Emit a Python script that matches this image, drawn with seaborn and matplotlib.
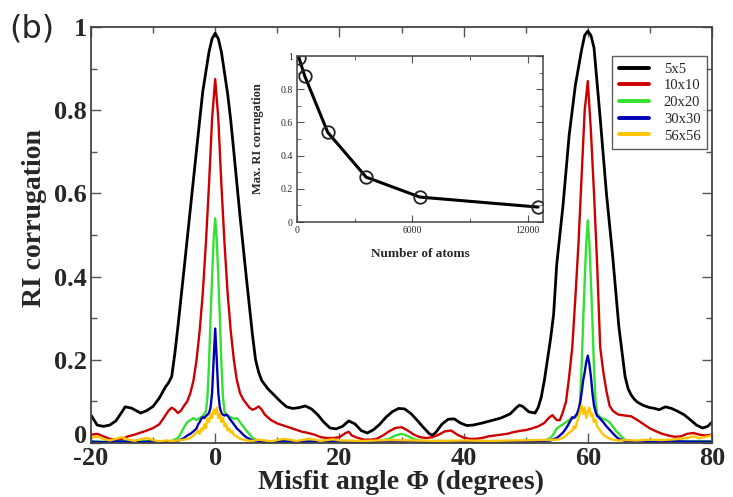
import numpy as np
import pandas as pd
import matplotlib
matplotlib.use("Agg")
import matplotlib.pyplot as plt
import matplotlib.transforms as mtransforms
import seaborn as sns
from matplotlib.ticker import MultipleLocator

# ---------------- data ----------------
sizes = ["5x5", "10x10", "20x20", "30x30", "56x56"]
colors = ["#000000", "#cc0000", "#33e033", "#0000b4", "#ffc400"]

ang_5 = [-20, -19, -18, -17, -16, -15, -14.5, -13.5, -12, -11, -10, -9, -8, -7.5, -7, -6.5, -6, -5.5, -5, -4, -3,
         -2.5, -2, -1, -0.5, 0, 0.5, 1, 2, 2.5, 3, 4, 5, 5.5, 6, 6.5, 7, 7.5, 8.5, 9.5, 10.5, 11.5, 12.5, 13.5,
         14.5, 15.5, 16.5, 17.5, 18.5, 19.5, 20.5, 21.5, 22.5, 23.5, 24.5, 25.5, 26.5, 27.5, 28.5, 29.5, 30.5,
         31.5, 32.5, 33.5, 34.5, 35, 35.5, 36.5, 37.5, 38.5, 39.5, 40.5, 41.5, 43, 44.5, 46, 47.5, 48.5, 49, 49.5,
         50.5, 51.5, 52, 52.5, 53, 53.5, 54, 54.5, 55, 56, 57, 58, 59, 59.5, 60, 60.5, 61, 62, 63, 64, 65, 65.5,
         66, 66.5, 67, 67.5, 68, 69, 70, 70.5, 71.5, 72.5, 73.5, 74.5, 75.5, 76.5, 77.5, 78.5, 79.3, 80]
val_5 = [0.067, 0.043, 0.040, 0.043, 0.053, 0.075, 0.087, 0.084, 0.072, 0.078, 0.088, 0.108, 0.135, 0.145, 0.16,
         0.215, 0.28, 0.35, 0.42, 0.563, 0.705, 0.776, 0.845, 0.94, 0.972, 0.985, 0.972, 0.94, 0.84, 0.776, 0.70,
         0.545, 0.40, 0.33, 0.26, 0.20, 0.17, 0.15, 0.13, 0.115, 0.10, 0.087, 0.083, 0.085, 0.089, 0.082, 0.068,
         0.05, 0.036, 0.034, 0.040, 0.053, 0.046, 0.03, 0.024, 0.032, 0.045, 0.062, 0.075, 0.083, 0.082, 0.071,
         0.055, 0.038, 0.022, 0.019, 0.025, 0.045, 0.057, 0.058, 0.048, 0.042, 0.043, 0.048, 0.054, 0.060, 0.070,
         0.085, 0.091, 0.088, 0.075, 0.072, 0.085, 0.11, 0.15, 0.20, 0.25, 0.31, 0.43, 0.57, 0.74, 0.86, 0.945,
         0.98, 0.99, 0.98, 0.95, 0.78, 0.60, 0.45, 0.28, 0.22, 0.16, 0.13, 0.115, 0.105, 0.098, 0.09, 0.085, 0.084,
         0.080, 0.087, 0.083, 0.076, 0.068, 0.056, 0.043, 0.036, 0.040, 0.050]

ang_10 = [-20, -19, -18, -17, -16, -15, -14, -13, -12, -11, -10, -9, -8.3, -7.5, -7, -6.5, -6, -5.5, -5, -4.5, -4,
          -3.5, -3, -2.5, -2, -1.5, -1, -0.5, 0, 0.5, 1, 1.5, 2, 2.5, 3, 3.5, 4, 4.5, 5, 5.5, 6, 6.5, 7, 7.5, 8, 9,
          10, 11, 12, 13, 14, 15, 16, 17, 18, 19, 20, 21, 21.5, 22, 23, 24, 25, 26, 27, 28, 29, 30, 31, 32, 33, 34,
          35, 36, 37, 38, 39, 40, 41, 42, 43, 44, 45, 46, 47, 48, 49, 50, 51, 52, 53, 53.7, 54.3, 55, 55.5, 56,
          56.5, 57, 57.5, 58, 58.5, 59, 59.5, 60, 60.5, 61, 61.5, 62, 62.5, 63, 63.5, 64, 64.5, 65, 66, 67, 68, 69,
          70, 71, 72, 73, 74, 75, 76, 77, 78, 79, 80]
val_10 = [0.02, 0.022, 0.016, 0.01, 0.008, 0.01, 0.016, 0.02, 0.025, 0.03, 0.036, 0.045, 0.06, 0.078, 0.085, 0.08,
          0.072, 0.078, 0.09, 0.10, 0.12, 0.15, 0.20, 0.27, 0.36, 0.48, 0.62, 0.78, 0.875, 0.78, 0.62, 0.48, 0.36,
          0.27, 0.20, 0.15, 0.12, 0.105, 0.095, 0.085, 0.08, 0.083, 0.088, 0.08, 0.068, 0.055, 0.047, 0.042, 0.037,
          0.032, 0.027, 0.024, 0.02, 0.014, 0.012, 0.012, 0.014, 0.024, 0.027, 0.018, 0.012, 0.008, 0.008, 0.01,
          0.018, 0.028, 0.036, 0.038, 0.03, 0.02, 0.014, 0.012, 0.014, 0.02, 0.028, 0.030, 0.02, 0.013, 0.01, 0.01,
          0.012, 0.016, 0.018, 0.02, 0.022, 0.026, 0.029, 0.031, 0.035, 0.04, 0.048, 0.06, 0.067, 0.055, 0.055,
          0.075, 0.10, 0.16, 0.23, 0.35, 0.48, 0.64, 0.80, 0.87, 0.75, 0.60, 0.43, 0.23, 0.17, 0.125, 0.09, 0.078,
          0.072, 0.068, 0.066, 0.064, 0.055, 0.045, 0.035, 0.028, 0.022, 0.018, 0.015, 0.016, 0.022, 0.024, 0.02,
          0.018, 0.02]

ang_20 = [-20, -18, -16, -14, -12, -10, -8, -7, -6, -5.5, -5, -4.5, -4, -3.5, -3, -2.5, -2, -1.5, -1.25, -1, -0.75,
          -0.5, -0.25, 0, 0.25, 0.5, 0.75, 1, 1.25, 1.5, 2, 2.5, 3, 3.5, 4, 4.5, 5, 5.5, 6, 7, 8, 10, 12, 14, 16,
          18, 20, 22, 24, 26, 28, 29, 30, 31, 32, 34, 36, 38, 40, 42, 44, 46, 48, 50, 52, 53, 54, 54.5, 55, 55.5,
          56, 56.5, 57, 57.5, 58, 58.5, 58.75, 59, 59.25, 59.5, 59.75, 60, 60.25, 60.5, 60.75, 61, 61.25, 61.5, 62,
          62.5, 63, 63.5, 64, 64.5, 65, 65.5, 66, 67, 70, 72, 74, 76, 78, 80]
val_20 = [0.004, 0.003, 0.005, 0.004, 0.006, 0.004, 0.003, 0.005, 0.012, 0.024, 0.038, 0.05, 0.055, 0.06, 0.055,
          0.06, 0.065, 0.075, 0.11, 0.19, 0.30, 0.40, 0.49, 0.54, 0.49, 0.40, 0.30, 0.19, 0.11, 0.075, 0.065, 0.062,
          0.058, 0.06, 0.05, 0.04, 0.03, 0.022, 0.012, 0.005, 0.003, 0.004, 0.005, 0.003, 0.004, 0.006, 0.004,
          0.005, 0.003, 0.004, 0.01, 0.018, 0.022, 0.017, 0.009, 0.004, 0.005, 0.004, 0.003, 0.005, 0.004, 0.003,
          0.004, 0.005, 0.004, 0.006, 0.012, 0.022, 0.035, 0.04, 0.045, 0.05, 0.055, 0.06, 0.062, 0.07, 0.10, 0.18,
          0.29, 0.39, 0.48, 0.535, 0.48, 0.39, 0.29, 0.18, 0.10, 0.07, 0.062, 0.058, 0.055, 0.05, 0.04, 0.03, 0.022,
          0.014, 0.008, 0.004, 0.003, 0.005, 0.004, 0.003, 0.005, 0.004]

ang_30 = [-20, -18, -16, -14, -12, -10, -8, -6, -5, -4.5, -4, -3.5, -3, -2.75, -2.5, -2.25, -2, -1.75, -1.5, -1.25,
          -1, -0.75, -0.5, -0.25, 0, 0.25, 0.5, 0.75, 1, 1.25, 1.5, 1.75, 2, 2.25, 2.5, 2.75, 3, 3.5, 4, 4.5, 5, 5.5,
          6, 8, 10, 14, 18, 22, 26, 30, 34, 38, 42, 46, 50, 54, 55, 55.5, 56, 56.5, 57, 57.25, 57.5, 57.75, 58,
          58.25, 58.5, 58.75, 59, 59.25, 59.5, 59.75, 60, 60.25, 60.5, 60.75, 61, 61.25, 61.5, 61.75, 62, 62.5, 63,
          63.5, 64, 64.5, 65, 66, 70, 74, 78, 80]
val_30 = [0.003, 0.002, 0.004, 0.003, 0.002, 0.004, 0.003, 0.005, 0.012, 0.018, 0.022, 0.028, 0.035, 0.045, 0.05,
          0.058, 0.062, 0.06, 0.065, 0.068, 0.072, 0.085, 0.12, 0.20, 0.275, 0.20, 0.12, 0.085, 0.072, 0.068, 0.066,
          0.068, 0.066, 0.06, 0.055, 0.05, 0.045, 0.035, 0.028, 0.02, 0.014, 0.01, 0.006, 0.003, 0.004, 0.003,
          0.004, 0.003, 0.004, 0.005, 0.003, 0.004, 0.003, 0.004, 0.003, 0.006, 0.012, 0.018, 0.025, 0.035, 0.048,
          0.055, 0.062, 0.06, 0.065, 0.07, 0.08, 0.095, 0.12, 0.15, 0.17, 0.195, 0.21, 0.19, 0.16, 0.12, 0.09, 0.075,
          0.065, 0.062, 0.058, 0.05, 0.04, 0.032, 0.024, 0.016, 0.01, 0.005, 0.003, 0.004, 0.003, 0.003]

ang_56 = [-20, -19, -18, -17, -16, -15, -14, -13, -12, -11, -10, -9, -8, -7, -6, -5, -4, -3.5, -3, -2.75, -2.5,
          -2.25, -2, -1.75, -1.5, -1.25, -1, -0.75, -0.5, -0.25, 0, 0.25, 0.5, 0.75, 1, 1.25, 1.5, 1.75, 2, 2.25,
          2.5, 2.75, 3, 3.5, 4, 5, 6, 7, 8, 9, 10, 11, 12, 13, 14, 15, 16, 17, 18, 19, 20, 24, 28, 32, 36, 40, 44,
          48, 52, 55, 56, 56.5, 57, 57.5, 57.75, 58, 58.25, 58.5, 58.75, 59, 59.25, 59.5, 59.75, 60, 60.25, 60.5,
          60.75, 61, 61.25, 61.5, 61.75, 62, 62.5, 63, 64, 65, 66, 68, 70, 72, 74, 76, 77, 78, 79, 80]
val_56 = [0.012, 0.016, 0.01, 0.006, 0.01, 0.014, 0.008, 0.005, 0.009, 0.012, 0.007, 0.004, 0.006, 0.005, 0.006,
          0.008, 0.012, 0.018, 0.025, 0.03, 0.022, 0.035, 0.03, 0.045, 0.035, 0.06, 0.05, 0.07, 0.06, 0.08, 0.07,
          0.085, 0.06, 0.07, 0.05, 0.06, 0.04, 0.045, 0.03, 0.035, 0.025, 0.028, 0.02, 0.015, 0.01, 0.006, 0.005,
          0.008, 0.006, 0.004, 0.007, 0.01, 0.008, 0.005, 0.007, 0.01, 0.008, 0.005, 0.007, 0.009, 0.006, 0.005,
          0.007, 0.006, 0.005, 0.006, 0.005, 0.006, 0.007, 0.008, 0.012, 0.018, 0.025, 0.03, 0.04, 0.035, 0.05,
          0.06, 0.075, 0.09, 0.07, 0.085, 0.06, 0.075, 0.085, 0.065, 0.07, 0.05, 0.055, 0.04, 0.035, 0.03, 0.02,
          0.014, 0.008, 0.006, 0.007, 0.006, 0.008, 0.007, 0.009, 0.012, 0.016, 0.012, 0.015, 0.018]

atoms = [100, 400, 1600, 3600, 6400, 12544]
max_corr = [0.99, 0.88, 0.54, 0.27, 0.15, 0.09]

x_ticks = [-20, 0, 20, 40, 60, 80]
y_ticks = [0, 0.2, 0.4, 0.6, 0.8, 1]
y_ticklabels = ["0", "0.2", "0.4", "0.6", "0.8", "1"]

# ---------------- build ----------------
frames = []
for name, a, v in zip(sizes, [ang_5, ang_10, ang_20, ang_30, ang_56],
                      [val_5, val_10, val_20, val_30, val_56]):
    frames.append(pd.DataFrame({"angle": a, "value": v, "size": name}))
df = pd.concat(frames, ignore_index=True)

sns.set_style("ticks")
plt.rcParams["font.family"] = ["Liberation Serif", "DejaVu Serif"]

W, H = 733, 497
fig = plt.figure(figsize=(W / 100, H / 100), dpi=100)
ax = fig.add_axes([91 / W, 1 - 443 / H, 621 / W, 416 / H])

lws = {"5x5": 2.0, "10x10": 1.7, "20x20": 1.7, "30x30": 1.7, "56x56": 1.7}
sns.lineplot(data=df, x="angle", y="value", hue="size", hue_order=sizes,
             palette=dict(zip(sizes, colors)), estimator=None, sort=False,
             linewidth=1.8, ax=ax, legend=True)
for line, s in zip(ax.lines, sizes):
    line.set_linewidth(lws[s])

ax.set_xlim(-20, 80)
ax.set_ylim(0, 1)
ax.set_xticks(x_ticks)
ax.set_xticklabels([str(t) for t in x_ticks])
ax.set_yticks(y_ticks)
ax.set_yticklabels(y_ticklabels)
ax.xaxis.set_minor_locator(MultipleLocator(10))
ax.yaxis.set_minor_locator(MultipleLocator(0.1))
ax.tick_params(which="both", direction="in", top=True, right=True, color="#555555", width=1.0)
ax.tick_params(which="major", length=7, labelsize=19, pad=3)
ax.tick_params(which="minor", length=4)
for lab in ax.get_xticklabels() + ax.get_yticklabels():
    lab.set_fontweight("bold")
# the "0" on the y axis is nudged up a few pixels so it clears "-20"
zero_lab = ax.get_yticklabels()[0]
zero_lab.set_transform(zero_lab.get_transform() +
                       mtransforms.ScaledTranslation(0, 9 / 100, fig.dpi_scale_trans))
for sp in ax.spines.values():
    sp.set_linewidth(1.3)
    sp.set_color("#444444")
ax.set_xlabel("Misfit angle \u03a6 (degrees)", fontsize=20, fontweight="bold", labelpad=0)
ax.set_ylabel("RI corrugation", fontsize=20, fontweight="bold")
ax.yaxis.set_label_coords(-0.071, 0.54)

leg = ax.legend(loc="upper right", bbox_to_anchor=(707 / W, 1 - 56 / H), bbox_transform=fig.transFigure,
                frameon=True, fancybox=False, fontsize=10.5, handlelength=2.1, handletextpad=1.0,
                labelspacing=0.24, borderpad=0.45, borderaxespad=0, title=None)
leg.get_frame().set_edgecolor("#333333")
leg.get_frame().set_linewidth(1.0)
for lh in leg.get_lines():
    lh.set_linewidth(2.8)

# inset
axi = fig.add_axes([297 / W, 1 - 222 / H, 246 / W, 166 / H])
sns.lineplot(x=atoms, y=max_corr, ax=axi, color="black", linewidth=2.2,
             marker="o", markersize=9, markerfacecolor="none", markeredgecolor="#222222",
             markeredgewidth=1.3)
axi.set_xlim(0, 12800)
axi.set_ylim(0, 1)
axi.set_xticks([0, 6000, 12000])
axi.set_xticklabels(["0", "6000", "12000"])
axi.set_yticks([0, 0.2, 0.4, 0.6, 0.8, 1])
axi.set_yticklabels(["0", "0.2", "0.4", "0.6", "0.8", "1"])
axi.xaxis.set_minor_locator(MultipleLocator(3000))
axi.yaxis.set_minor_locator(MultipleLocator(0.1))
axi.tick_params(which="both", direction="in", top=True, right=True, color="#555555")
axi.tick_params(which="major", length=5, labelsize=7, pad=3)
axi.tick_params(which="minor", length=3)
for sp in axi.spines.values():
    sp.set_linewidth(1.1)
    sp.set_color("#444444")
axi.set_xlabel("Number of atoms", fontsize=9.5, fontweight="bold", labelpad=9)
axi.set_ylabel("Max. RI corrugation", fontsize=9, fontweight="bold", labelpad=12)

fig.text(9 / W, 1 - 29 / H, "(b)", fontsize=23, family="DejaVu Sans", va="center", ha="left")

fig.savefig("out.png", dpi=100)
